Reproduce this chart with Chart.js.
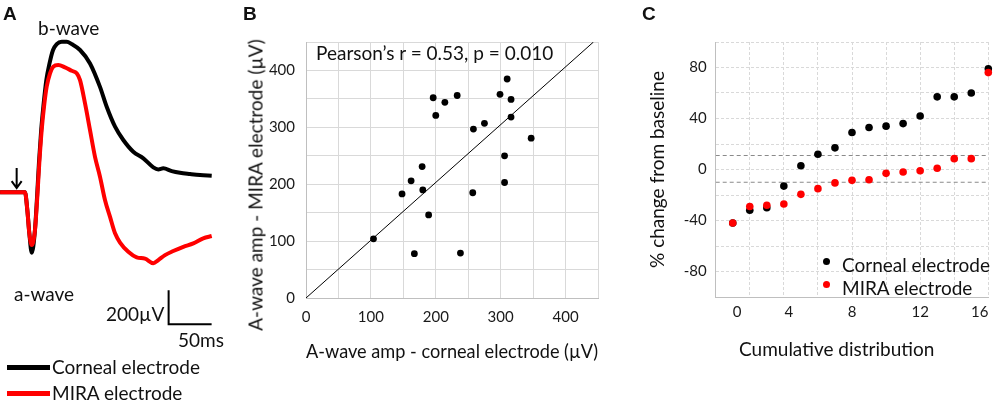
<!DOCTYPE html>
<html>
<head>
<meta charset="utf-8">
<script src="https://cdn.jsdelivr.net/npm/chart.js@4.4.1/dist/chart.umd.min.js"></script>
<style>
  body { margin: 0; background: #fff; }
  #fig { position: relative; width: 996px; height: 400px; overflow: hidden; font-family: Lato, sans-serif; color: #111; }
  #fig canvas { position: absolute; top: 0; }
  .lbl { position: absolute; white-space: nowrap; line-height: 1; }
  .swatch { position: absolute; }
</style>
</head>
<body>
<div id="fig">
  <canvas id="chartA" width="240" height="400" style="left:0"></canvas>
  <canvas id="chartB" width="380" height="400" style="left:240px"></canvas>
  <canvas id="chartC" width="376" height="400" style="left:620px"></canvas>
</div>
<script>
// ---- A: ERG traces, time (ms) after the flash and amplitude (µV)
const cornealTime = [-29, 0, 2.7, 5.0, 7.8, 11.4, 14.0, 16.2, 18.8, 21.4, 24.8, 28.5, 32.6, 36.9, 42.7, 48.5, 54.3, 64.0, 75.6, 87.2, 95.0, 104.7, 114.3, 125.9, 137.6, 149.2, 155.0, 160.8, 170.6, 180.2, 191.9, 203.5, 217.1];
const cornealUv   = [0, 0, -104, -239, -355, -233, -28, 172, 366, 507, 660, 758, 837, 872, 886, 886, 872, 837, 758, 620, 503, 386, 308, 239, 200, 147, 135, 141, 125, 115, 108, 102, 98];
const miraTime = [-29, 0, 2.7, 5.0, 7.8, 11.6, 14.3, 16.6, 19.4, 22.1, 25.2, 29.1, 32.9, 38.7, 46.5, 54.3, 60.1, 64.0, 69.8, 75.6, 81.4, 87.2, 93.0, 98.8, 104.7, 110.5, 120.1, 129.9, 139.5, 149.2, 155.0, 162.8, 172.4, 184.1, 195.7, 207.3, 217.1];
const miraUv   = [0, 0, -104, -239, -310, -222, -26, 171, 366, 503, 621, 700, 739, 749, 735, 715, 700, 660, 523, 366, 209, 92, -45, -143, -241, -295, -349, -382, -390, -417, -398, -369, -345, -320, -300, -270, -257];
const scaleBarMs = 50;
const scaleBarUv = 200;

// ---- B: a-wave amplitudes (µV), one point per eye
const cornealAmp = [104, 148, 162, 179, 180, 189, 167, 196, 200, 214, 233, 238, 257, 258, 275, 299, 310, 316, 316, 306, 306, 347];
const miraAmp    = [104, 183, 206, 231, 190, 146, 78, 352, 321, 344, 356, 79, 185, 297, 307, 358, 385, 349, 318, 250, 203, 281];
const unityX = [0, 443];
const unityY = [0, 450];
const bTicks = [0, 100, 200, 300, 400];

// ---- C: % change from baseline, sorted
const cornealChange = [-42, -32, -30, -13, 3, 12, 17, 29, 33, 34, 36, 42, 57, 57, 60, 79];
const miraChange    = [-42, -29, -28, -27, -19.5, -15, -10.5, -8.5, -8, -3, -2, -1, 1, 8.5, 8.5, 76];
const changeLimits = [11, -10];
const cYTicks = [-80, -40, 0, 40, 80];
const cXTickLabels = ['0', '4', '8', '12', '16'];
const cXTickPos = [0.25, 3.3, 7.0, 11.0, 14.5];

const fig = document.getElementById('fig');
const tickFont = { family: 'Lato', size: 15 };
const tickColor = '#1a1a1a';
const gridColor = '#d9d9d9';

function label(text, x, y, o = {}) {
  const d = document.createElement('div');
  d.className = 'lbl';
  d.textContent = text;
  d.style.left = x + 'px';
  d.style.top = y + 'px';
  d.style.fontSize = (o.size || 19) + 'px';
  if (o.bold) { d.style.fontWeight = 'bold'; d.style.fontFamily = '"Liberation Sans", Arial, sans-serif'; }
  let tf = o.center ? 'translate(-50%,-50%)' : 'translateY(-50%)';
  if (o.rotate) tf += ' rotate(-90deg)';
  d.style.transform = tf;
  fig.appendChild(d);
}

function swatch(x, y, w, h, color, round) {
  const s = document.createElement('div');
  s.className = 'swatch';
  s.style.cssText = `left:${x}px;top:${y}px;width:${w}px;height:${h}px;background:${color};` + (round ? 'border-radius:50%;' : '');
  fig.appendChild(s);
}

const toPoints = (xs, ys) => xs.map((x, i) => ({ x: x, y: ys[i] }));

// stimulus arrow above the baseline
const flashArrow = {
  id: 'flashArrow',
  afterDatasetsDraw(chart) {
    const { ctx, scales: { x, y } } = chart;
    const px = x.getPixelForValue(-9.7);
    const top = y.getPixelForValue(143);
    const tip = y.getPixelForValue(25);
    ctx.save();
    ctx.strokeStyle = '#000';
    ctx.lineWidth = 2;
    ctx.beginPath();
    ctx.moveTo(px, top);
    ctx.lineTo(px, tip);
    ctx.moveTo(px - 5, tip - 7);
    ctx.lineTo(px, tip);
    ctx.lineTo(px + 5, tip - 7);
    ctx.stroke();
    ctx.restore();
  }
};

// A
const barT = 167, barV = -775;
new Chart(document.getElementById('chartA'), {
  type: 'line',
  data: {
    datasets: [
      { data: toPoints(miraTime, miraUv), borderColor: '#ff0000', borderWidth: 4, pointRadius: 0, cubicInterpolationMode: 'monotone', borderJoinStyle: 'round', order: 0 },
      { data: toPoints(cornealTime, cornealUv), borderColor: '#000', borderWidth: 4, pointRadius: 0, cubicInterpolationMode: 'monotone', borderJoinStyle: 'round', order: 1 },
      { data: [{ x: barT, y: barV + scaleBarUv }, { x: barT, y: barV }, { x: barT + scaleBarMs, y: barV }], borderColor: '#000', borderWidth: 2, pointRadius: 0, tension: 0, order: 2 }
    ]
  },
  options: {
    responsive: false,
    animation: false,
    layout: { padding: 0 },
    plugins: { legend: { display: false }, tooltip: { enabled: false } },
    scales: {
      x: { type: 'linear', display: false, min: -29.07, max: 250 },
      y: { type: 'linear', display: false, min: -1221, max: 1131 }
    }
  },
  plugins: [flashArrow]
});

// B
new Chart(document.getElementById('chartB'), {
  type: 'scatter',
  data: {
    datasets: [
      { data: toPoints(cornealAmp, miraAmp), backgroundColor: '#000', borderWidth: 0, pointRadius: 3.4, order: 0 },
      { type: 'line', data: toPoints(unityX, unityY), borderColor: '#000', borderWidth: 1, pointRadius: 0, showLine: true, order: 1 }
    ]
  },
  options: {
    responsive: false,
    animation: false,
    layout: { padding: { left: 0, right: 22, top: 42, bottom: 0 } },
    plugins: { legend: { display: false }, tooltip: { enabled: false } },
    scales: {
      x: {
        type: 'linear', min: 0, max: 450,
        afterFit: s => { s.height = 102; },
        ticks: { stepSize: 50, autoSkip: false, maxRotation: 0, padding: 10, font: tickFont, color: tickColor,
          callback: v => bTicks.includes(v) ? String(v) : '' },
        grid: { color: gridColor, drawTicks: false },
        border: { color: '#bfbfbf' },
        title: { display: true, text: 'A-wave amp - corneal electrode (µV)', color: '#111', font: { family: 'Lato', size: 19 }, padding: { bottom: 37 } }
      },
      y: {
        type: 'linear', min: 0, max: 450,
        afterFit: s => { s.width = 66; },
        ticks: { stepSize: 50, autoSkip: false, padding: 11, font: tickFont, color: tickColor,
          callback: v => bTicks.includes(v) ? String(v) : '' },
        grid: { color: gridColor, drawTicks: false },
        border: { color: '#bfbfbf' }
      }
    }
  }
});

// C: the labelled bottom axis carries no grid, a hidden top axis draws the vertical grid
const limitLine = v => ({ type: 'line', data: [{ x: -1, y: v }, { x: 15, y: v }], borderColor: '#8a8a8a', borderWidth: 1.2, borderDash: [4, 3], pointRadius: 0, showLine: true, order: 2 });
new Chart(document.getElementById('chartC'), {
  type: 'scatter',
  data: {
    datasets: [
      { data: miraChange.map((v, i) => ({ x: i, y: v })), backgroundColor: '#ff0000', borderWidth: 0, pointRadius: 3.8, clip: false, order: 0 },
      { data: cornealChange.map((v, i) => ({ x: i, y: v })), backgroundColor: '#000', borderWidth: 0, pointRadius: 3.8, clip: false, order: 1 },
      limitLine(changeLimits[0]),
      limitLine(changeLimits[1])
    ]
  },
  options: {
    responsive: false,
    animation: false,
    layout: { padding: { left: 0, right: 7.7, top: 42, bottom: 0 } },
    plugins: { legend: { display: false }, tooltip: { enabled: false } },
    scales: {
      x: {
        type: 'linear', min: -1, max: 15, position: 'bottom',
        afterFit: s => { s.height = 103; },
        afterBuildTicks: s => { s.ticks = cXTickPos.map(v => ({ value: v })); },
        ticks: { autoSkip: false, maxRotation: 0, padding: 6, font: tickFont, color: tickColor,
          callback: (v, i) => cXTickLabels[i] },
        grid: { display: false, drawTicks: false },
        border: { color: '#bfbfbf' }
      },
      xGrid: {
        type: 'linear', min: -1, max: 15, position: 'top',
        afterFit: s => { s.height = 0; },
        ticks: { stepSize: 2, display: false },
        grid: { color: gridColor, drawTicks: false },
        border: { display: false, dash: [3, 2] }
      },
      y: {
        type: 'linear', min: -100, max: 100,
        afterFit: s => { s.width = 95.7; },
        ticks: { stepSize: 20, autoSkip: false, padding: 9, font: tickFont, color: tickColor,
          callback: v => cYTicks.includes(v) ? String(v) : '' },
        grid: { color: gridColor, drawTicks: false },
        border: { color: '#bfbfbf', dash: [3, 2] },
        title: { display: true, text: '% change from baseline', color: '#111', font: { family: 'Lato', size: 19 }, padding: { top: 26.6 } }
      }
    }
  }
});

// text and legends
label('A', 3, 13, { bold: true });
label('b-wave', 38, 27);
label('a-wave', 14, 292.6);
label('200µV', 106, 312.6);
label('50ms', 178, 338.6);
swatch(7, 365, 43, 5, '#000');
label('Corneal electrode', 52, 365.6);
swatch(7, 390.5, 43, 5, '#ff0000');
label('MIRA electrode', 52, 391.6);

label('B', 243, 13, { bold: true });
label('Pearson’s r = 0.53, p = 0.010', 316, 52.1);
label('A-wave amp - MIRA electrode (µV)', 255, 185, { center: true, rotate: true });

label('C', 642, 13, { bold: true });
label('Cumulative distribution', 836.7, 347.6, { center: true });
swatch(822.9, 257.7, 7.6, 7.6, '#000', true);
label('Corneal electrode', 842, 264.3);
swatch(822.9, 280.5, 7.6, 7.6, '#ff0000', true);
label('MIRA electrode', 842, 286.6);
</script>
</body>
</html>
